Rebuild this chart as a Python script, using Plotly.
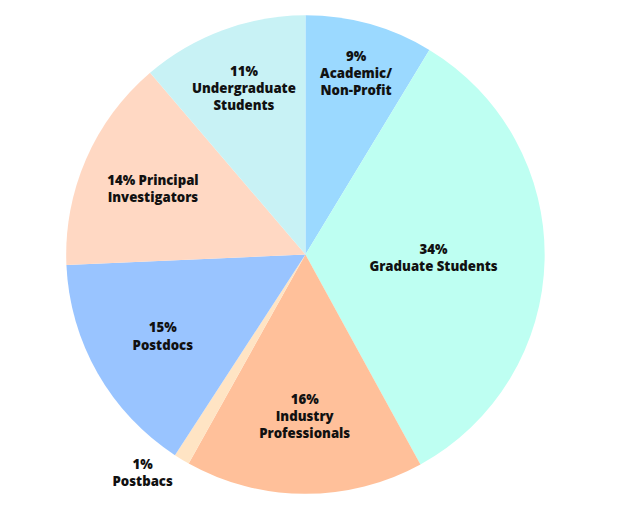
import plotly.graph_objects as go

labels = ["Academic/Non-Profit", "Graduate Students", "Industry Professionals",
          "Postbacs", "Postdocs", "Principal Investigators", "Undergraduate Students"]
values = [8.67, 33.36, 16.1, 1.07, 15.13, 14.45, 11.25]
texts = ["9%<br>Academic/<br>Non-Profit", "34%<br>Graduate Students",
         "16%<br>Industry<br>Professionals", "1%<br>Postbacs", "15%<br>Postdocs",
         "14% Principal<br>Investigators", "11%<br>Undergraduate<br>Students"]
colors = ["#9BD9FF", "#BEFFF2", "#FFC09A", "#FFE4C4", "#99C4FF", "#FFD8C3", "#C8F2F5"]
positions = ["inside", "inside", "inside", "outside", "inside", "inside", "inside"]

fig = go.Figure(go.Pie(
    labels=labels, values=values, text=texts, textinfo="text",
    sort=False, direction="clockwise", rotation=0,
    marker=dict(colors=colors, line=dict(width=0)),
    textposition=positions, insidetextorientation="horizontal",
    textfont=dict(family="Open Sans", size=13.2, color="#111111", weight=800),
    outsidetextfont=dict(family="Open Sans", size=13.2, color="#111111", weight=800),
    hoverinfo="label+percent",
    domain=dict(x=[0.094, 0.867], y=[0.06, 0.986]),
    automargin=False,
))
fig.update_layout(
    width=619, height=517, showlegend=False,
    margin=dict(l=0, r=0, t=0, b=0),
    paper_bgcolor="white", plot_bgcolor="white",
)
fig.write_html("out.html")
